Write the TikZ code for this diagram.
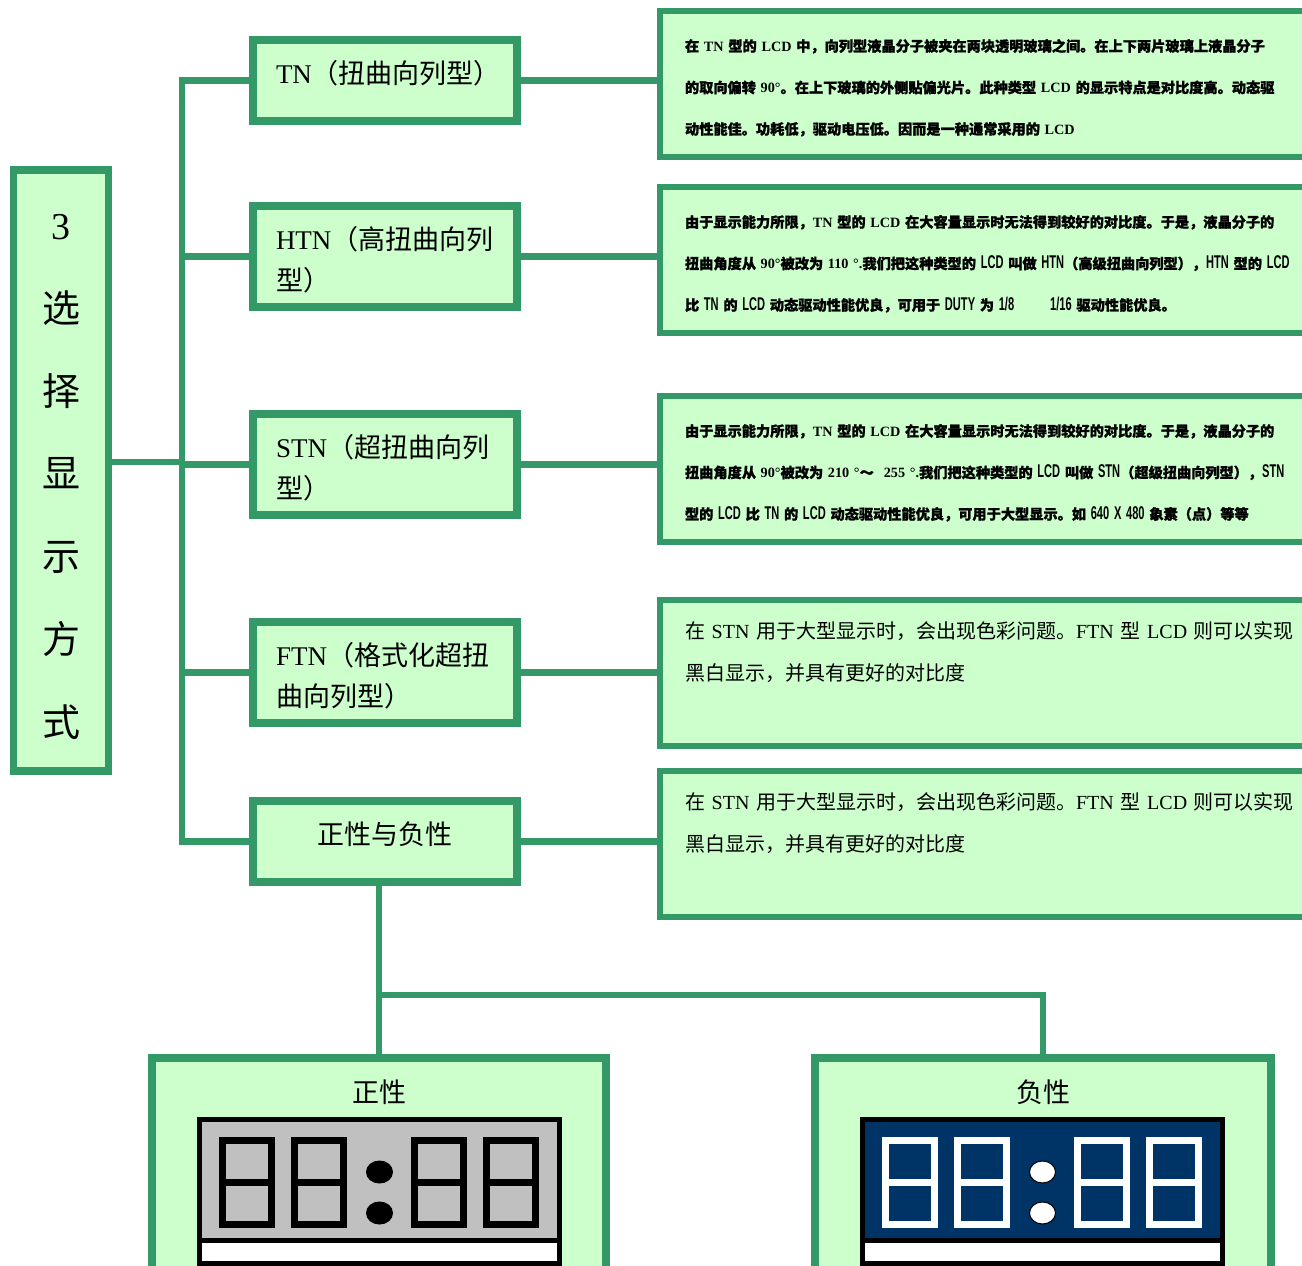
\documentclass[tikz,border=0pt]{standalone}
\usepackage{fontspec}
\usepackage{xcolor}
\usepackage{tikz}
\usetikzlibrary{positioning}

\setmainfont{Liberation Serif}
\newfontfamily\cjkfont{Noto Sans CJK SC}[BoldFeatures={FakeBold=1.2}]
\newfontfamily\narrowsf{Liberation Sans}[Scale=1.3, FakeStretch=0.6]

% Han characters and fullwidth punctuation switch to the CJK face by themselves
\XeTeXinterchartokenstate=1
\newXeTeXintercharclass\hanclass
\newcommand\sethan[2]{%
  \count255=#1\relax
  \loop
    \XeTeXcharclass\count255=\hanclass
  \ifnum\count255<#2\relax
    \advance\count255 by 1
  \repeat}
\sethan{"3000}{"303F}
\sethan{"4E00}{"9FFF}
\sethan{"FF00}{"FFEF}
\XeTeXinterchartoks 0 \hanclass = {\cjkfont}
\XeTeXinterchartoks 4095 \hanclass = {\cjkfont}
\XeTeXinterchartoks \hanclass 0 = {\rmfamily}
\XeTeXinterchartoks \hanclass 4095 = {\rmfamily}

\definecolor{boxgreen}{RGB}{51,153,102}
\definecolor{boxfill}{RGB}{204,255,204}
\definecolor{lcdgray}{RGB}{192,192,192}
\definecolor{lcdblue}{RGB}{0,51,102}

% struts to push a line up or down inside its box
\newcommand\up{\rule[-17pt]{0pt}{0pt}}
\newcommand\dn[1]{\rule{0pt}{#1}}

\begin{document}
\begin{tikzpicture}[x=1pt, y=-1pt,
    box/.style={draw=boxgreen, fill=boxfill, line width=8pt},
    tag/.style={box, anchor=west, text width=218pt, inner xsep=23pt, align=left,
        font=\fontsize{27}{41}\selectfont},
    note/.style={box, line width=6pt, anchor=west, text width=700pt, inner xsep=25pt,
        minimum height=146pt, align=left},
    bold/.style={font=\bfseries\fontsize{14.2}{41.5}\selectfont},
    plain/.style={font=\fontsize{20}{42}\selectfont},
    link/.style={draw=boxgreen, line width=6.5pt}]
    \useasboundingbox (0,0) rectangle (1302,1266);
    \clip (0,0) rectangle (1302,1266);

    % Root
    \node[box, line width=7.5pt, minimum width=95pt, minimum height=601pt, align=center,
        font=\fontsize{38}{82.7}\selectfont] (sel) at (61,470.5)
        {\dn{38pt}3\\选\\择\\显\\示\\方\\式};

    % LCD types
    \node[tag, minimum height=81pt] (tn) at (249,80.5) {TN（扭曲向列型）\up};
    \node[tag, minimum height=101pt] (htn) at (249,256.5) {\dn{30pt}HTN（高扭曲向列\\型）};
    \node[tag, minimum height=101pt] (stn) at (249,464.5) {\dn{30pt}STN（超扭曲向列\\型）};
    \node[tag, minimum height=101pt] (ftn) at (249,672.5) {\dn{30pt}FTN（格式化超扭\\曲向列型）};
    \node[box, minimum width=264pt, minimum height=81pt,
        font=\fontsize{27}{41}\selectfont] (pol) at (385,841.5) {正性与负性\up};

    % Descriptions
    \node[note, bold] (r1) at (657,84)
        {\dn{20pt}在 TN 型的 LCD 中，向列型液晶分子被夹在两块透明玻璃之间。在上下两片玻璃上液晶分子\\
         的取向偏转 90°。在上下玻璃的外侧贴偏光片。此种类型 LCD 的显示特点是对比度高。动态驱\\
         动性能佳。功耗低，驱动电压低。因而是一种通常采用的 LCD};
    \node[note, bold] (r2) at (657,260)
        {\dn{20pt}由于显示能力所限，TN 型的 LCD 在大容量显示时无法得到较好的对比度。于是，液晶分子的\\
         扭曲角度从 90°被改为 110 °.我们把这种类型的 {\narrowsf LCD} 叫做 {\narrowsf HTN}（高级扭曲向列型），{\narrowsf HTN} 型的 {\narrowsf LCD}\\
         比 {\narrowsf TN} 的 {\narrowsf LCD} 动态驱动性能优良，可用于 {\narrowsf DUTY} 为 {\narrowsf 1/8}\hspace{36pt}{\narrowsf 1/16} 驱动性能优良。};
    \node[note, bold] (r3) at (657,469)
        {\dn{20pt}由于显示能力所限，TN 型的 LCD 在大容量显示时无法得到较好的对比度。于是，液晶分子的\\
         扭曲角度从 90°被改为 210 °～\hspace{10pt}255 °.我们把这种类型的 {\narrowsf LCD} 叫做 {\narrowsf STN}（超级扭曲向列型），{\narrowsf STN}\\
         型的 {\narrowsf LCD} 比 {\narrowsf TN} 的 {\narrowsf LCD} 动态驱动性能优良，可用于大型显示。如 {\narrowsf 640 X 480} 象素（点）等等};
    \node[note, plain] (r4) at (657,672.5)
        {在 STN 用于大型显示时，会出现色彩问题。FTN 型 LCD 则可以实现\\
         黑白显示，并具有更好的对比度\\ \mbox{}};
    \node[note, plain] (r5) at (657,843.5)
        {在 STN 用于大型显示时，会出现色彩问题。FTN 型 LCD 则可以实现\\
         黑白显示，并具有更好的对比度\\ \mbox{}};

    % Positive / negative panels
    \node[box, line width=7.7pt, minimum width=454pt, minimum height=260pt, anchor=north] (pos) at (379,1054) {};
    \node[box, line width=7.7pt, minimum width=456pt, minimum height=260pt, anchor=north] (neg) at (1043,1054) {};
    \node[font=\fontsize{27}{30}\selectfont] (posl) at (379,1092) {正性};
    \node[font=\fontsize{27}{30}\selectfont] (negl) at (1043,1092) {负性};

    % Connectors
    \coordinate (jn) at (182,462);
    \draw[link] (sel.east |- jn) -- (jn);
    \draw[link] (tn.west) -| (jn) |- (pol.west);
    \foreach \n in {htn,stn,ftn}
        \draw[link] (\n.west) -- (\n.west -| jn);
    \foreach \a/\b in {tn/r1, htn/r2, stn/r3, ftn/r4, pol/r5}
        \draw[link] (\a.east) -- (\a.east -| \b.west);
    \coordinate (fork) at (379,995);
    \draw[link] (pos.north) -- (pos.north |- pol.south);
    \draw[link] (fork) -| (neg.north);

    % 88:88 displays
    \foreach \lx/\bg/\fg in {197/lcdgray/black, 860/lcdblue/white} {
        \draw[line width=5pt, fill=white] (\lx+2.5,1240.5) rectangle (\lx+362.5,1263.5);
        \draw[line width=5pt, fill=\bg] (\lx+2.5,1119.5) rectangle (\lx+362.5,1240.5);
        \foreach \dx in {22,94,214,286}
            \draw[\fg, line width=7pt] (\lx+\dx+3.5,1140.5) rectangle (\lx+\dx+52.5,1224.5)
                (\lx+\dx+3.5,1182.5) -- (\lx+\dx+52.5,1182.5);
        \foreach \dy in {1172,1213}
            \draw[fill=\fg, line width=1pt] (\lx+182.5,\dy) ellipse (13pt and 11pt);
    }
\end{tikzpicture}
\end{document}
